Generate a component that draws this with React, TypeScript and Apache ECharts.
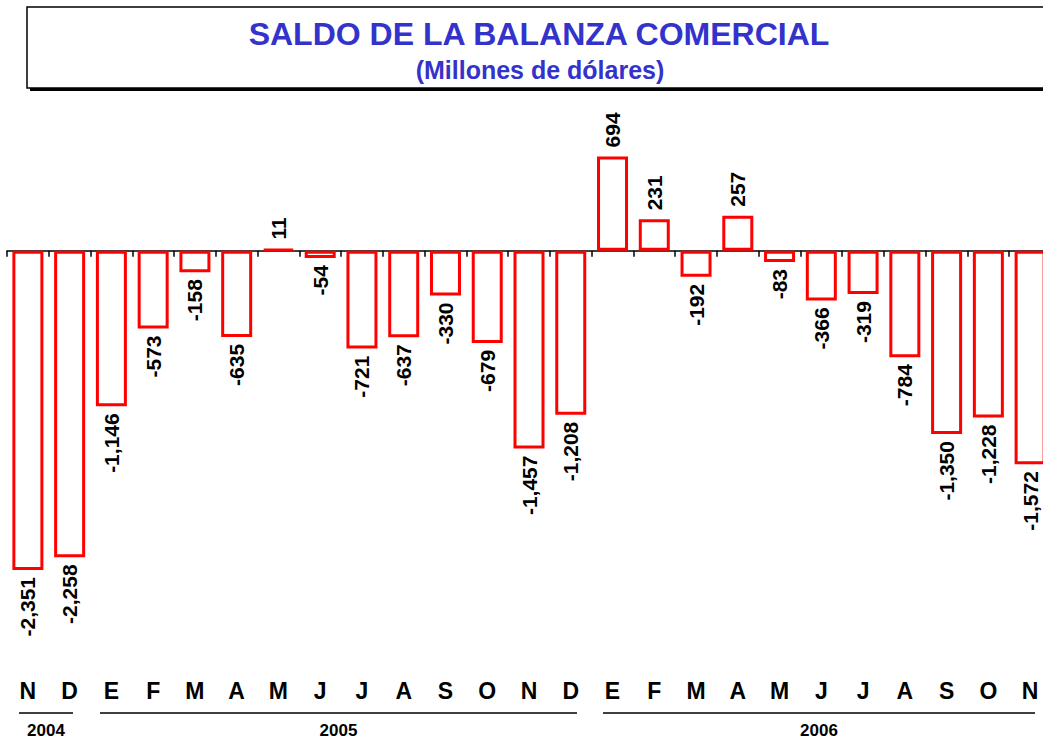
import React, { useEffect, useRef } from "react";
import * as echarts from "echarts";

const months = ["N", "D", "E", "F", "M", "A", "M", "J", "J", "A", "S", "O", "N", "D", "E", "F", "M", "A", "M", "J", "J", "A", "S", "O", "N"];
const saldo = [-2351, -2258, -1146, -573, -158, -635, 11, -54, -721, -637, -330, -679, -1457, -1208, 694, 231, -192, 257, -83, -366, -319, -784, -1350, -1228, -1572];
const years = [
  { label: "2004", x1: 19, x2: 73 },
  { label: "2005", x1: 100, x2: 577 },
  { label: "2006", x1: 603, x2: 1035 },
];
const titleText = "SALDO DE LA BALANZA COMERCIAL";
const subtitleText = "(Millones de dólares)";

const FONT = "Arial, 'Liberation Sans', Helvetica, sans-serif";

export default function App() {
  const ref = useRef<HTMLDivElement>(null);
  useEffect(() => {
    if (!ref.current) return;
    const chart = echarts.init(ref.current, null, { renderer: "svg" });
    const fmt = (v: number) => v.toLocaleString("en-US");
    const data = saldo.map((v) => ({
      value: v,
      label:
        v < 0
          ? { position: "bottom", rotate: 90, align: "right", verticalAlign: "middle", distance: 9, offset: [2, 0] }
          : { position: "top", rotate: 90, align: "left", verticalAlign: "middle", distance: 7, offset: [2, 0] },
    }));
    const graphics: any[] = [
      { type: "rect", shape: { x: 30, y: 10, width: 1030, height: 81 }, style: { fill: "#000" }, z: 0 },
      { type: "rect", shape: { x: 27, y: 7, width: 1030, height: 81 }, style: { fill: "#fff", stroke: "#000", lineWidth: 1.5 }, z: 1 },
      {
        type: "text", x: 539, y: 34, z: 2,
        style: { text: titleText, fill: "#3333cc", font: `bold 32px ${FONT}`, textAlign: "center", textVerticalAlign: "middle" },
      },
      {
        type: "text", x: 540, y: 70, z: 2,
        style: { text: subtitleText, fill: "#3333cc", font: `bold 25px ${FONT}`, textAlign: "center", textVerticalAlign: "middle" },
      },
    ];
    years.forEach((y) => {
      graphics.push({ type: "line", shape: { x1: y.x1, y1: 713, x2: y.x2, y2: 713 }, style: { stroke: "#000", lineWidth: 1.5 } });
      graphics.push({
        type: "text", x: (y.x1 + y.x2) / 2, y: 730,
        style: { text: y.label, fill: "#000", font: `bold 17px ${FONT}`, textAlign: "center", textVerticalAlign: "middle" },
      });
    });
    chart.setOption({
      animation: false,
      backgroundColor: "#fff",
      grid: { left: 7, right: 9, top: 114.9, height: 543.2 },
      xAxis: [
        {
          type: "category",
          data: months,
          position: "bottom",
          axisLine: { show: true, onZero: true, lineStyle: { color: "#000", width: 1.5 } },
          axisTick: { show: true, length: 6, lineStyle: { color: "#000", width: 1.5 } },
          axisLabel: { show: false },
          splitLine: { show: false },
        },
        {
          type: "category",
          data: months,
          position: "bottom",
          axisLine: { show: false, onZero: false },
          axisTick: { show: false },
          axisLabel: { show: true, margin: 21, color: "#000", fontFamily: FONT, fontWeight: "bold", fontSize: 23, interval: 0 },
          splitLine: { show: false },
        },
      ],
      yAxis: {
        type: "value",
        min: -3000,
        max: 1000,
        show: false,
        splitLine: { show: false },
      },
      series: [
        {
          type: "bar",
          xAxisIndex: 0,
          data,
          barWidth: 31,
          itemStyle: { color: "#fff", borderColor: "#ff0000", borderWidth: 3 },
          label: {
            show: true,
            color: "#000",
            fontFamily: FONT,
            fontWeight: "bold",
            fontSize: 21,
            formatter: (p: any) => fmt(p.value),
          },
        },
      ],
      graphic: graphics,
    });
    return () => chart.dispose();
  }, []);
  return (
    <div style={{ position: "fixed", left: 0, top: 0, width: 1043, height: 738, overflow: "hidden", background: "#fff" }}>
      <div ref={ref} style={{ width: 1060, height: 738 }} />
    </div>
  );
}
